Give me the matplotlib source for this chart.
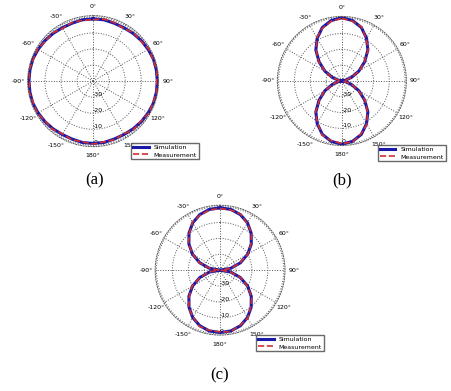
import numpy as np
import matplotlib.pyplot as plt

# angles in degrees, every 10 deg
angles = list(range(0, 361, 10))

# (a) omnidirectional pattern (normalised radius)
sim_a = [0.97, 0.97, 0.96, 0.96, 0.97, 0.98, 0.99, 1.00, 1.00, 1.00,
         1.00, 1.00, 0.99, 0.98, 0.97, 0.96, 0.96, 0.97, 0.97, 0.97,
         0.96, 0.96, 0.97, 0.98, 0.99, 1.00, 1.00, 1.00, 1.00, 1.00,
         0.99, 0.98, 0.97, 0.96, 0.96, 0.97, 0.97]
meas_a = [0.96, 0.98, 0.97, 0.95, 0.98, 0.97, 1.00, 0.99, 1.01, 0.99,
          1.00, 0.99, 1.00, 0.97, 0.98, 0.95, 0.97, 0.96, 0.98, 0.96,
          0.97, 0.95, 0.98, 0.97, 1.00, 0.99, 1.01, 0.99, 1.01, 0.99,
          1.00, 0.97, 0.98, 0.95, 0.97, 0.96, 0.96]

# (b) figure-eight pattern, narrow lobes
sim_b = [1.00, 0.97, 0.90, 0.78, 0.64, 0.47, 0.31, 0.16, 0.05, 0.00,
         0.05, 0.16, 0.31, 0.47, 0.64, 0.78, 0.90, 0.97, 1.00, 0.97,
         0.90, 0.78, 0.64, 0.47, 0.31, 0.16, 0.05, 0.00, 0.05, 0.16,
         0.31, 0.47, 0.64, 0.78, 0.90, 0.97, 1.00]
meas_b = [0.99, 0.96, 0.91, 0.77, 0.65, 0.46, 0.32, 0.15, 0.06, 0.02,
          0.04, 0.17, 0.30, 0.48, 0.63, 0.79, 0.89, 0.98, 0.99, 0.96,
          0.91, 0.77, 0.65, 0.46, 0.32, 0.15, 0.06, 0.02, 0.04, 0.17,
          0.30, 0.48, 0.63, 0.79, 0.89, 0.96, 0.99]

# (c) figure-eight pattern, round lobes
sim_c = [0.98, 0.97, 0.93, 0.86, 0.76, 0.64, 0.50, 0.34, 0.17, 0.00,
         0.17, 0.34, 0.50, 0.64, 0.76, 0.86, 0.93, 0.97, 0.98, 0.97,
         0.93, 0.86, 0.76, 0.64, 0.50, 0.34, 0.17, 0.00, 0.17, 0.34,
         0.50, 0.64, 0.76, 0.86, 0.93, 0.97, 0.98]
meas_c = [0.97, 0.96, 0.94, 0.85, 0.77, 0.63, 0.51, 0.33, 0.18, 0.02,
          0.16, 0.35, 0.49, 0.65, 0.75, 0.87, 0.92, 0.98, 0.97, 0.96,
          0.94, 0.85, 0.77, 0.63, 0.51, 0.33, 0.18, 0.02, 0.16, 0.35,
          0.49, 0.65, 0.75, 0.87, 0.92, 0.96, 0.97]

theta_ticks = [0, 30, 60, 90, 120, 150, 180, 210, 240, 270, 300, 330]
theta_labels = ['0°', '30°', '60°', '90°', '120°', '150°', '180°',
                '-150°', '-120°', '-90°', '-60°', '-30°']
r_ticks = [0.25, 0.5, 0.75, 1.0]
r_labels = ['-30', '-20', '-10', '0']

panels = [
    ([0.060, 0.625, 0.293, 0.335], sim_a, meas_a, (0.284, 0.642), (95, 180), '(a)'),
    ([0.614, 0.628, 0.288, 0.330], sim_b, meas_b, (0.831, 0.637), (342, 180), '(b)'),
    ([0.344, 0.143, 0.288, 0.332], sim_c, meas_c, (0.561, 0.151), (220, 375), '(c)'),
]

fig = plt.figure(figsize=(4.51, 3.91), dpi=100)
th = np.deg2rad(angles)

for rect, sim, meas, leg_pos, cap_pos, cap in panels:
    ax = fig.add_axes(rect, projection='polar')
    ax.set_theta_zero_location('N')
    ax.set_theta_direction(-1)
    ax.plot(th, sim, color='#1a1aa8', lw=2.2, label='Simulation')
    ax.plot(th, meas, color='#d03030', lw=1.2, ls='--', label='Measurement')
    ax.set_ylim(0, 1.02)
    ax.set_xticks(np.deg2rad(theta_ticks))
    ax.set_xticklabels(theta_labels, fontsize=4.5)
    ax.tick_params(axis='x', pad=-4)
    ax.set_yticks(r_ticks)
    ax.set_yticklabels(r_labels, fontsize=4.5)
    ax.set_rlabel_position(180)
    ax.grid(True, color='#555555', ls=':', lw=0.7)
    ax.spines['polar'].set_linestyle(':')
    ax.spines['polar'].set_color('#555555')
    ax.spines['polar'].set_linewidth(0.7)
    fig.legend(*ax.get_legend_handles_labels(), loc='upper left',
               bbox_to_anchor=leg_pos, fontsize=4.5, frameon=True,
               fancybox=False, edgecolor='#444444', borderpad=0.3,
               handlelength=2.5, labelspacing=0.3)
    fig.text(cap_pos[0] / 451, 1 - cap_pos[1] / 391, cap, ha='center', va='center',
             fontsize=12, family='Liberation Serif')

fig.savefig('out.png', dpi=100)
